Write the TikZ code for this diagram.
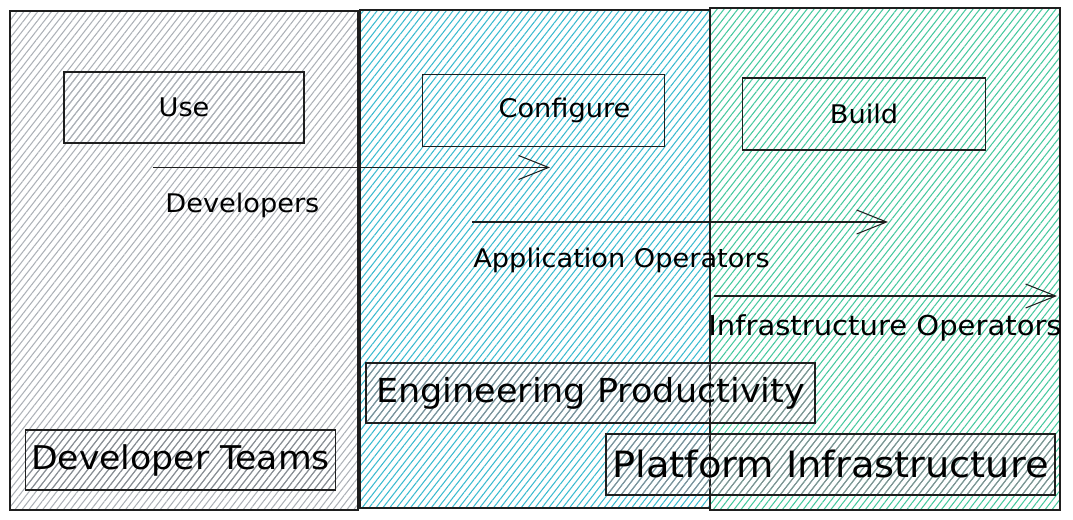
\documentclass[tikz,border=0pt]{standalone}
\usepackage{fontspec}
\setmainfont[FakeStretch=1.06]{DejaVu Sans}
\usetikzlibrary{arrows.meta,positioning,patterns.meta}
\definecolor{devcolor}{RGB}{172, 177, 183}
\definecolor{teamcolor}{RGB}{135, 141, 147}
\definecolor{engcolor}{RGB}{58, 186, 207}
\definecolor{platcolor}{RGB}{70, 200, 158}
\definecolor{inkcolor}{RGB}{30, 30, 30}

\begin{document}
\begin{tikzpicture}[
        hachure/.style={pattern={Lines[angle=52, distance=3.1pt, line width=0.6pt]}},
        column/.style={draw=inkcolor, line width=0.7pt, hachure},
        stagebox/.style={rectangle, draw=inkcolor, semithick, minimum width=4.85cm, minimum height=1.44cm, font=\fontsize{14.6}{17}\selectfont},
        teambox/.style={rectangle, draw=inkcolor, semithick, minimum width=8.98cm, minimum height=1.2cm, hachure, pattern color=teamcolor, font=\fontsize{18.8}{22}\selectfont},
        role/.style={anchor=west, inner sep=0pt, font=\fontsize{14.6}{17}\selectfont},
        flow/.style={-{Straight Barb[length=0.6cm, width=0.48cm]}, semithick, draw=inkcolor}
    ]
        \useasboundingbox (0,0) rectangle (21.46,10.4);

        % Columns
        \node[column, pattern color=devcolor, minimum width=6.96cm, minimum height=9.98cm] (devcol) at (3.68,5.19) {};
        \node[column, pattern color=engcolor, minimum width=7cm, minimum height=9.96cm] (engcol) at (10.7,5.22) {};
        \node[column, pattern color=platcolor, minimum width=7cm, minimum height=10.04cm] (platcol) at (17.7,5.22) {};

        % Stages
        \node[stagebox, hachure, pattern color=devcolor, minimum width=4.8cm, minimum height=1.42cm] (use) at (3.68,8.25) {Use};
        \node[stagebox] (configure) at (10.87,8.19) {\hspace*{0.84cm}Configure};
        \node[stagebox] (build) at (17.28,8.12) {Build};

        % Roles
        \coordinate (dev-start) at (3.06,7.05);
        \coordinate (dev-end) at (11.0,7.05);
        \draw[flow] (dev-start) -- (dev-end);
        \node[role] (developers) at (3.3,6.3) {Developers};

        \coordinate (app-start) at (9.44,5.96);
        \coordinate (app-end) at (17.76,5.96);
        \draw[flow] (app-start) -- (app-end);
        \node[role] (appops) at (9.46,5.2) {Application Operators};

        \coordinate (infra-start) at (14.28,4.48);
        \coordinate (infra-end) at (21.14,4.48);
        \draw[flow] (infra-start) -- (infra-end);
        \node[role, font=\fontsize{15.6}{18}\selectfont] (infraops) at (14.16,3.84) {Infrastructure Operators};

        % Teams
        \node[teambox, minimum width=6.18cm, font=\fontsize{18.6}{21}\selectfont] (devteams) at (3.61,1.2) {Developer Teams};
        \node[teambox] (engprod) at (11.81,2.54) {Engineering Productivity};
        \node[teambox, minimum height=1.22cm, font=\fontsize{20.6}{24}\selectfont] (platinfra) at (16.61,1.11) {Platform Infrastructure};

    \end{tikzpicture}
\end{document}
